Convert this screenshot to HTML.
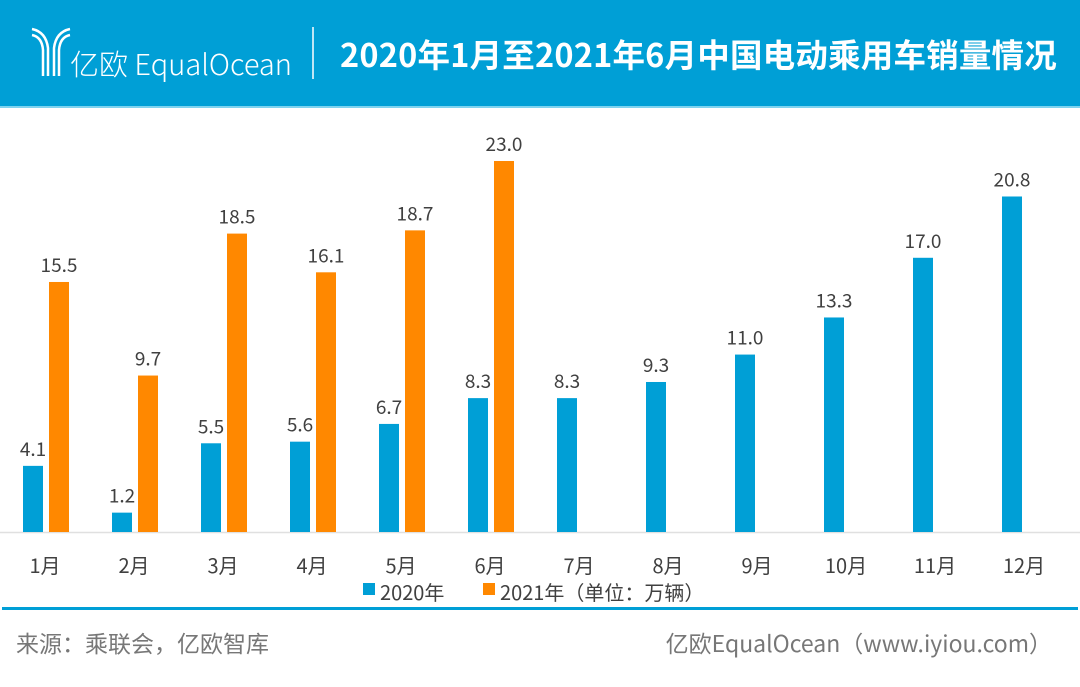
<!DOCTYPE html>
<html><head><meta charset="utf-8"><style>
body{margin:0;width:1080px;height:687px;overflow:hidden;background:#fff;font-family:"Liberation Sans","Noto Sans CJK SC",sans-serif;position:relative}
#hdr{position:absolute;left:0;top:0;width:1080px;height:106px;background:#009fd6;border-bottom:2px solid #7fd3ef}
#title{position:absolute;left:340px;top:30px;color:#fff;font-weight:bold;font-size:32.5px;font-family:"Noto Sans CJK SC",sans-serif;white-space:nowrap;letter-spacing:0.2px}
#brand{position:absolute;left:70px;top:42px;color:#fff;font-size:29px;white-space:nowrap;font-family:"Noto Sans CJK SC",sans-serif;font-weight:300}
#div{position:absolute;left:312px;top:27px;width:2px;height:52px;background:#bfe6f5}
#line{position:absolute;left:2px;top:607px;width:1076px;height:3px;background:#009fd6}
.foot{position:absolute;top:625px;color:#777;font-size:23px;font-family:"Noto Sans CJK SC",sans-serif}
</style></head><body>
<div id="hdr">
<svg style="position:absolute;left:30px;top:26px" width="42" height="52">
<g fill="none" stroke="#fff" stroke-width="2.5">
<path d="M2 3 Q16 6 18 22 V50"/><path d="M2 9 Q12 11 13 24 V50"/><path d="M40 3 Q26 6 24 22 V50"/><path d="M40 9 Q30 11 29 24 V50"/></g></svg>
<div id="brand">亿欧 EqualOcean</div>
<div id="div"></div>
<div id="title">2020年1月至2021年6月中国电动乘用车销量情况</div>
</div>
<svg id="chart" width="1080" height="610" style="position:absolute;left:0;top:0"></svg>
<div id="line"></div>
<div class="foot" style="left:16px">来源：乘联会，亿欧智库</div>
<div class="foot" style="right:28px">亿欧EqualOcean（www.iyiou.com）</div>
<script>
const categories=["1月","2月","3月","4月","5月","6月","7月","8月","9月","10月","11月","12月"];
const values2020=[4.1,1.2,5.5,5.6,6.7,8.3,8.3,9.3,11.0,13.3,17.0,20.8];
const values2021=[15.5,9.7,18.5,16.1,18.7,23.0,null,null,null,null,null,null];
const seriesNames=["2020年","2021年（单位：万辆）"];
const svg=document.getElementById('chart');const NS="http://www.w3.org/2000/svg";
const base=532,ppu=16.13,x0=45,step=89,bw=20;
const y=v=>base-v*ppu;const xc=i=>x0+i*step;
const CJK='"Noto Sans CJK SC",sans-serif';
function mk(t,a,txt){const e=document.createElementNS(NS,t);for(const k in a)e.setAttribute(k,a[k]);if(txt!=null)e.textContent=txt;svg.appendChild(e);return e;}
const ax=mk('line',{x1:0,x2:1080,y1:base+0.5,y2:base+0.5,stroke:'#e0e0e0','stroke-width':1.5});


categories.forEach((c,i)=>{
 const t=mk('text',{x:xc(i),y:573,'text-anchor':'middle','font-size':20,fill:'#404040','font-family':CJK},c);
 
 
 [[values2020[i],xc(i)-22,'#009fd6'],[values2021[i],xc(i)+4,'#ff8800']].forEach((s,k)=>{
  if(s[0]==null)return;
  const r=mk('rect',{x:s[1],y:y(s[0]),width:bw,height:s[0]*ppu,fill:s[2]});
  
  
  const l=mk('text',{x:s[1]+bw/2,y:y(s[0])-10,'text-anchor':'middle','font-size':19,fill:'#404040','font-family':CJK},s[0].toFixed(1));
  
  
 });
});
[[363,'#009fd6',seriesNames[0]],[483,'#ff8800',seriesNames[1]]].forEach((g,k)=>{
 const r=mk('rect',{x:g[0],y:583,width:12,height:12,fill:g[1]});
 
 
 const t=mk('text',{x:g[0]+17,y:600,'font-size':20,fill:'#404040','font-family':CJK},g[2]);
 
 
});
</script>
</body></html>
